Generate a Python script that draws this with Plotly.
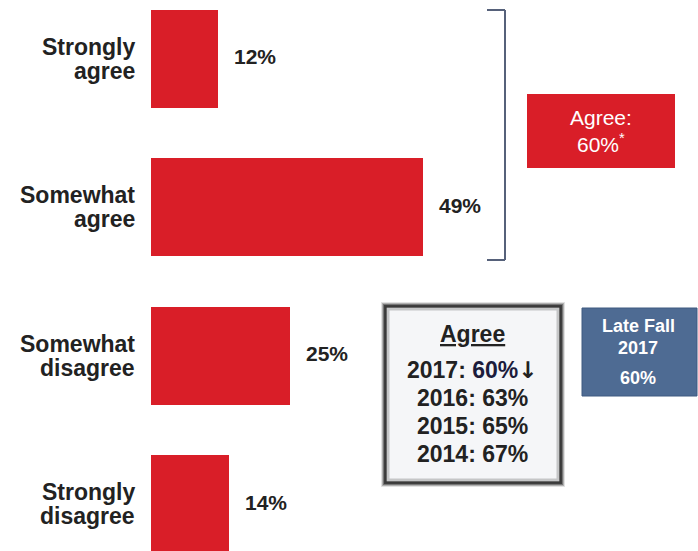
import plotly.graph_objects as go

# Survey responses
categories = ["Strongly agree", "Somewhat agree", "Somewhat disagree", "Strongly disagree"]
label_lines = [["Strongly", "agree"], ["Somewhat", "agree"], ["Somewhat", "disagree"], ["Strongly", "disagree"]]
values = [12, 49, 25, 14]

agree_total = "60%"
trend_years = ["2017", "2016", "2015", "2014"]
trend_values = ["60%", "63%", "65%", "67%"]
late_fall_lines = ["Late Fall", "2017", "60%"]

W, H = 698, 551
BAR_RED = "#d91e28"
TEXT = "#222222"
FONT = "Liberation Sans, Arial, sans-serif"


def px(x):
    return x / W


def py(y):
    return 1 - y / H


def note(x, y, text, size, color=TEXT, **kw):
    return dict(x=px(x), y=py(y), xref="paper", yref="paper", text=text, showarrow=False,
                xanchor="center", yanchor="middle", align="center",
                font=dict(family=FONT, size=size, color=color), **kw)


fig = go.Figure()
fig.add_trace(go.Bar(
    x=values, y=categories, orientation="h",
    marker=dict(color=BAR_RED, line=dict(width=0)),
    width=0.66, hoverinfo="skip",
))

annotations = []
shapes = []

# Category labels (two right-aligned lines each) and value labels
for cat, lines, v in zip(categories, label_lines, values):
    for k, line in enumerate(lines):
        annotations.append(dict(
            x=px(137), xref="paper", y=cat, yref="y",
            text=f"<b>{line}</b>", showarrow=False,
            xanchor="right", yanchor="middle", yshift=12 - 24 * k,
            font=dict(family=FONT, size=23, color=TEXT),
        ))
    annotations.append(dict(
        x=v, y=cat, xref="x", yref="y", text=f"<b>{v}%</b>",
        showarrow=False, xanchor="left", yanchor="middle", xshift=14, yshift=2,
        font=dict(family=FONT, size=21, color=TEXT),
    ))

# Bracket grouping the two agree bars
BRACKET = "#56617a"
for x0, x1, y0, y1 in [(505, 505, 10, 260), (487, 505, 10, 10), (487, 505, 260, 260)]:
    shapes.append(dict(type="line", xref="paper", yref="paper", x0=px(x0), x1=px(x1),
                       y0=py(y0), y1=py(y1), line=dict(color=BRACKET, width=2)))

# Red "Agree" total box
shapes.append(dict(type="rect", xref="paper", yref="paper", x0=px(527), x1=px(675), y0=py(94), y1=py(168),
                   fillcolor=BAR_RED, line=dict(width=0), layer="below"))
annotations.append(note(601, 117, "Agree:", 21, "white"))
annotations.append(note(601, 143, f"{agree_total}<sup>*</sup>", 21, "white"))

# Grey trend box with soft shadowed frame
for pad, col in [(4, "rgba(60,60,60,0.15)"), (3, "rgba(60,60,60,0.3)"),
                 (2, "rgba(60,60,60,0.5)"), (1, "rgba(50,50,50,0.8)")]:
    shapes.append(dict(type="rect", xref="paper", yref="paper",
                       x0=px(385 - pad), x1=px(561 + pad), y0=py(306 - pad), y1=py(483 + pad),
                       fillcolor=col, line=dict(width=0), layer="below"))
shapes.append(dict(type="rect", xref="paper", yref="paper", x0=px(386), x1=px(560), y0=py(307), y1=py(482),
                   fillcolor="#f5f6f8", line=dict(color="#3a3a3a", width=1.5), layer="below"))
shapes.append(dict(type="rect", xref="paper", yref="paper", x0=px(388), x1=px(558), y0=py(309), y1=py(480),
                   fillcolor="#f5f6f8", line=dict(color="rgba(110,110,110,0.35)", width=3), layer="below"))

annotations.append(note(472, 334, "<b><u>Agree</u></b>", 23))
for i, (yr, val) in enumerate(zip(trend_years, trend_values)):
    if i == 0:
        txt = (f"<b>{yr}: <span style='color:#1c1c3c'>{val}</span>"
               f"<span style='font-family:DejaVu Sans'>\u2193</span></b>")
    else:
        txt = f"<b>{yr}: {val}</b>"
    annotations.append(note(472, 370 + 28 * i, txt, 23))

# Blue "Late Fall 2017" box
shapes.append(dict(type="rect", xref="paper", yref="paper", x0=px(582), x1=px(697), y0=py(308), y1=py(396),
                   fillcolor="#4e6b93", line=dict(color="#3f5a80", width=1), layer="below"))
for t, yy in zip(late_fall_lines, [326, 348, 378]):
    annotations.append(note(638, yy, f"<b>{t}</b>", 18, "white"))

fig.update_layout(
    width=W, height=H,
    margin=dict(l=0, r=0, t=0, b=0),
    paper_bgcolor="white", plot_bgcolor="white",
    showlegend=False,
    xaxis=dict(range=[-27.2, 98.56], visible=False, fixedrange=True),
    yaxis=dict(range=[3.316, -0.394], visible=False, type="category",
               categoryorder="array", categoryarray=categories, fixedrange=True),
    shapes=shapes, annotations=annotations,
    bargap=0,
)

fig.write_html("out.html")
